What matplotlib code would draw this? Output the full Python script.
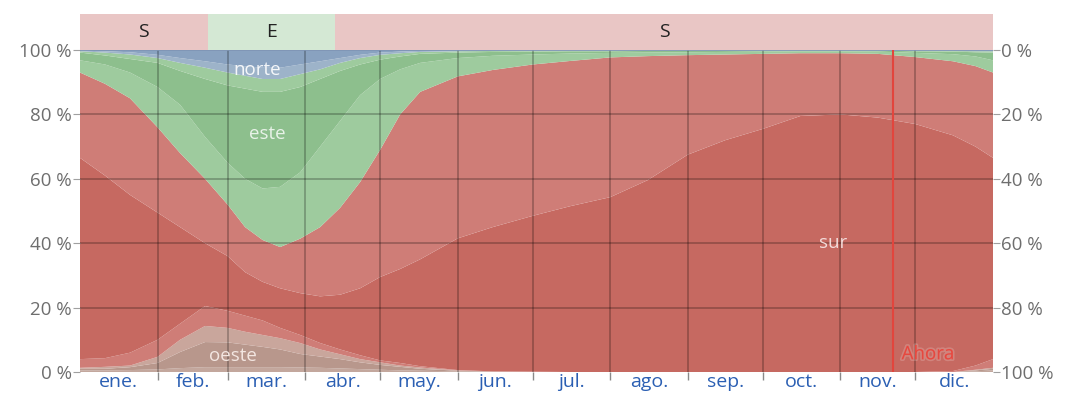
import matplotlib.pyplot as plt
import matplotlib.patheffects as pe
import numpy as np

# dia del año
days = [0, 10, 20, 31, 40, 50, 59, 66, 73, 80, 88, 96, 104, 112, 120, 128, 136,
        151, 165, 181, 196, 212, 227, 243, 258, 273, 288, 304, 319, 334, 349, 358, 365]

# porcentaje de horas por direccion (de abajo hacia arriba)
oeste_nw = [0.5, 0.5, 0.6, 0.8, 1.2, 1.5, 1.5, 1.5, 1.5, 1.5, 1.4, 1.3, 1.1, 0.9, 0.7, 0.5, 0.4,
            0.2, 0, 0, 0, 0, 0, 0, 0, 0, 0, 0, 0, 0, 0, 0.2, 0.5]
oeste = [0.5, 0.5, 0.9, 2, 5, 7.8, 7.7, 7, 6.3, 5.5, 4.2, 3.5, 2.9, 2.1, 1.5, 1.1, 0.6,
         0.2, 0.1, 0, 0, 0, 0, 0, 0, 0, 0, 0, 0, 0, 0, 0.3, 0.5]
oeste_sw = [0.3, 0.6, 0.5, 1.9, 3.8, 5, 4.5, 4, 3.7, 3.5, 3.4, 2.2, 1.5, 1, 0.8, 0.4, 0.4,
            0.1, 0.05, 0.05, 0, 0, 0, 0, 0, 0, 0, 0, 0, 0, 0, 0.2, 0.3]
sur_sw = [2.7, 2.7, 4, 5.3, 5, 6.2, 5.3, 5, 4.5, 3.2, 2.5, 2, 1.5, 1.2, 0.6, 0.8, 0.4,
          0.1, 0.05, 0.05, 0, 0, 0, 0, 0, 0, 0, 0, 0, 0, 0.3, 1.3, 2.7]
sur = [62.5, 56.7, 49, 39.5, 30, 19.5, 17, 13.5, 12, 12.3, 13, 14.5, 17, 20.8, 25.9, 29.2, 33.2,
       40.9, 44.8, 48.4, 51.5, 54.3, 59.6, 67.5, 72, 75.5, 79.5, 80, 79, 77, 73.2, 68, 62.5]
sur_se = [26.5, 28.5, 30, 26.5, 23, 20, 16, 14, 13, 12.8, 16.9, 21.5, 27, 33, 39.5, 48, 52,
          50.3, 48.8, 47, 45.1, 43.4, 38.5, 30.9, 26.6, 23.3, 19.5, 19, 19.8, 20.8, 23, 25, 26.5]
este_se = [3.8, 6, 8, 12.5, 15, 13, 13, 15, 16, 18.7, 20.6, 25, 27, 27, 22, 14, 9,
           5.7, 4.4, 3.1, 2.3, 1.4, 1.1, 0.9, 0.8, 0.7, 0.6, 0.6, 0.7, 1.3, 2.2, 3, 3.8]
este = [2.4, 2.8, 4.2, 7.5, 10.5, 18, 24, 28, 30, 29.5, 26.5, 21, 15.5, 9.5, 6, 4, 2.8,
        1.7, 1.2, 0.9, 0.7, 0.5, 0.5, 0.4, 0.4, 0.3, 0.25, 0.25, 0.3, 0.5, 0.8, 1.3, 2.4]
este_ne = [0.4, 0.9, 1.4, 1.5, 2.5, 3.5, 4, 4, 4, 4, 4, 3, 2.5, 2, 1.5, 1, 0.6,
           0.4, 0.3, 0.25, 0.2, 0.2, 0.2, 0.15, 0.1, 0.1, 0.05, 0.05, 0.1, 0.2, 0.2, 0.3, 0.4]
norte_ne = [0.2, 0.4, 0.7, 1, 1.5, 2, 2.5, 3, 3.5, 3.5, 3, 2.5, 1.5, 1, 0.7, 0.5, 0.3,
            0.2, 0.15, 0.15, 0.1, 0.1, 0.05, 0.1, 0.05, 0.05, 0.05, 0.05, 0.05, 0.1, 0.15, 0.2, 0.2]
norte = [0.2, 0.4, 0.7, 1.5, 2.5, 3.5, 4.5, 5, 5.5, 5.5, 4.5, 3.5, 2.5, 1.5, 0.8, 0.5, 0.3,
         0.2, 0.15, 0.1, 0.1, 0.1, 0.05, 0.05, 0.05, 0.05, 0.05, 0.05, 0.05, 0.1, 0.15, 0.2, 0.2]

month_starts = [0, 31, 59, 90, 120, 151, 181, 212, 243, 273, 304, 334, 365]
month_names = ['ene.', 'feb.', 'mar.', 'abr.', 'may.', 'jun.', 'jul.', 'ago.', 'sep.', 'oct.', 'nov.', 'dic.']

band_edges = [0, 51, 102, 365]
band_labels = ['S', 'E', 'S']

now_day = 325


def main():
    plt.rcParams['font.family'] = ['Open Sans', 'DejaVu Sans']

    fig = plt.figure(figsize=(10.66, 4.0), dpi=100)
    left, width = 80 / 1066, 913 / 1066
    ax = fig.add_axes([left, 28 / 400, width, 322 / 400])

    layers = [oeste_nw, oeste, oeste_sw, sur_sw, sur, sur_se,
              este_se, este, este_ne, norte_ne, norte]
    colors = ['#c3a79d', '#b8978c', '#c9a69c', '#cf7d77', '#c66961', '#cf7d77',
              '#9ecb9e', '#8dbf8d', '#9ecb9e', '#9db3c9', '#89a2c0']
    ax.stackplot(days, *layers, colors=colors, linewidth=0)

    ax.set_xlim(0, 365)
    ax.set_ylim(0, 100)

    # rejilla
    for d in month_starts[1:-1]:
        ax.axvline(d, color='black', alpha=0.27, lw=1.2, zorder=2)
    for v in [20, 40, 60, 80]:
        ax.axhline(v, color='black', alpha=0.27, lw=1.2, zorder=2)
    ax.axhline(100, color='#7f94b4', lw=1.2, zorder=2)

    for s in ax.spines.values():
        s.set_visible(False)

    ax.set_xticks(month_starts[1:-1])
    ax.set_xticklabels([])
    ax.tick_params(axis='x', which='major', length=6, color='#8a8a8a', width=1)
    mids = [(month_starts[i] + month_starts[i + 1]) / 2 for i in range(12)]
    ax.set_xticks(mids, minor=True)
    ax.set_xticklabels(month_names, minor=True)
    ax.tick_params(axis='x', which='minor', length=0, pad=1, labelsize=14, labelcolor='#2b5fb3')

    yt = [0, 20, 40, 60, 80, 100]
    ax.set_yticks(yt)
    ax.set_yticklabels([f'{v} %' for v in yt])
    ax.tick_params(axis='y', length=5, color='#a0a0a0', labelsize=13.5, labelcolor='#6e6e6e', pad=1)

    ax2 = ax.twinx()
    ax2.set_ylim(100, 0)
    ax2.set_yticks(yt)
    ax2.set_yticklabels([f'{v} %' for v in yt])
    ax2.tick_params(axis='y', length=5, color='#a0a0a0', labelsize=13.5, labelcolor='#6e6e6e', pad=1)
    for s in ax2.spines.values():
        s.set_visible(False)

    # etiquetas
    ax.text(71, 93.8, 'norte', color='white', fontsize=13.5, ha='center', va='center', alpha=0.9, zorder=4)
    ax.text(75, 74, 'este', color='white', fontsize=13.5, ha='center', va='center', alpha=0.8, zorder=4)
    ax.text(301, 40, 'sur', color='#f3dcda', fontsize=13.5, ha='center', va='center', zorder=4)
    ax.text(61, 5, 'oeste', color='#f3e6e1', fontsize=13.5, ha='center', va='center', zorder=4)

    # ahora
    ax.axvline(now_day, color='#e2453d', lw=1.5, zorder=3)
    ax.text(now_day + 14, 5.5, 'Ahora', color='#e5483f', fontsize=13.5, ha='center', va='center', zorder=4,
            path_effects=[pe.withStroke(linewidth=2.5, foreground=(1, 1, 1, 0.18))])

    # banda superior
    axb = fig.add_axes([left, 350 / 400, width, 36 / 400])
    band_colors = {'S': '#e9c6c5', 'E': '#d4e8d4'}
    for i, lab in enumerate(band_labels):
        axb.axvspan(band_edges[i], band_edges[i + 1], color=band_colors[lab], lw=0)
        axb.text((band_edges[i] + band_edges[i + 1]) / 2, 0.5, lab, ha='center', va='center',
                 fontsize=14, color='#222222')
    axb.set_xlim(0, 365)
    axb.set_ylim(0, 1)
    axb.axis('off')

    fig.savefig('out.png', dpi=100)


if __name__ == "__main__":
    main()
